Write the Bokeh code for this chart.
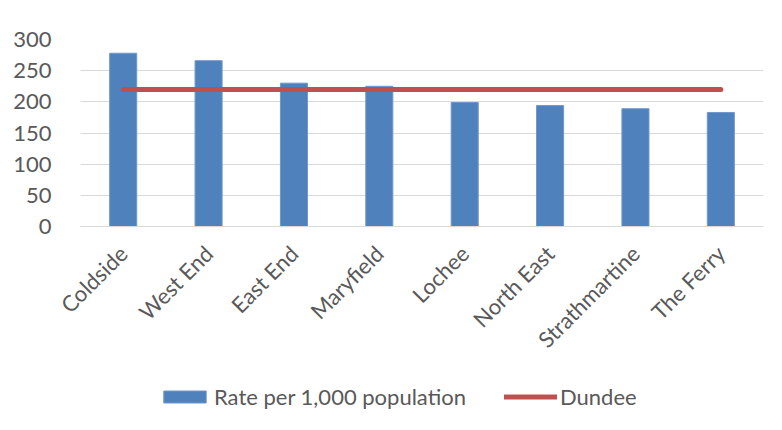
from bokeh.plotting import figure
from bokeh.models import Range1d, Legend, LegendItem, FixedTicker
from bokeh.embed import file_html
from bokeh.resources import INLINE
import math

categories = ["Coldside", "West End", "East End", "Maryfield", "Lochee",
              "North East", "Strathmartine", "The Ferry"]
rate = [278, 266, 230, 225, 199, 194, 189, 183]
dundee = [220, 220, 220, 220, 220, 220, 220, 220]
y_ticks = [0, 50, 100, 150, 200, 250, 300]

FONT = "Lato"
TXT = "#595959"

# category slots: centre of slot i sits at i + 0.5 on the x scale
xpos = [i + 0.5 for i in range(len(categories))]
n = len(categories)

p = figure(x_range=Range1d(-0.258, n),
           y_range=Range1d(-327, 300),
           width=782, height=430, output_backend="svg", toolbar_location=None,
           min_border_left=58, min_border_right=19, min_border_top=39,
           min_border_bottom=0)
p.outline_line_color = None

bars = p.vbar(x=xpos, top=rate, width=0.317, fill_color="#4F81BD",
              line_color="#7097CC", line_width=1)
line = p.line(x=xpos, y=dundee, line_color="#C0504D", line_width=5,
              line_cap="round")

p.xgrid.grid_line_color = None
p.ygrid.grid_line_color = "#D9D9D9"
p.ygrid.grid_line_width = 1
try:
    p.ygrid[0].cross_bounds = (0, n)
except Exception:
    pass

p.yaxis.ticker = y_ticks
p.yaxis.axis_line_color = None
p.yaxis.major_tick_line_color = None
p.yaxis.minor_tick_line_color = None
p.yaxis.major_label_standoff = 1

p.xaxis.fixed_location = 0
p.xaxis.bounds = (0, n)
p.xaxis.ticker = FixedTicker(ticks=xpos)
p.xaxis.major_label_overrides = {x: c for x, c in zip(xpos, categories)}
p.xaxis.axis_line_color = "#D9D9D9"
p.xaxis.major_tick_line_color = None
p.xaxis.minor_tick_line_color = None
p.xaxis.major_label_orientation = math.pi / 4
p.xaxis.major_label_standoff = 17
for ax in (p.xaxis, p.yaxis):
    ax.major_label_text_font = FONT
    ax.major_label_text_font_size = "22px"
    ax.major_label_text_color = TXT

legend = Legend(items=[LegendItem(label="Rate per 1,000 population", renderers=[bars]),
                       LegendItem(label="Dundee", renderers=[line])],
                orientation="horizontal", location=(100, 20),
                glyph_width=53, glyph_height=15, label_standoff=3, spacing=38,
                label_text_font=FONT, label_text_font_size="22px",
                label_text_color=TXT, border_line_color=None,
                background_fill_alpha=0, padding=0, margin=0)
p.add_layout(legend, "center")

open("out.html", "w").write(file_html(p, INLINE))
